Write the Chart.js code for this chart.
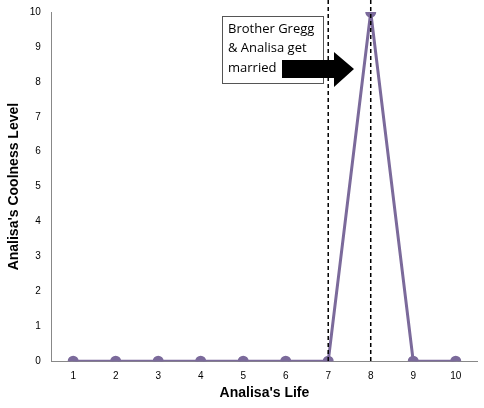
<!DOCTYPE html><html><head><script src="https://cdn.jsdelivr.net/npm/chart.js"></script>
<style>body{margin:0;background:#fff}#w{width:484px;height:408px}</style></head><body><div id="w"><canvas id="c"></canvas></div>
<script>
const categories=['1','2','3','4','5','6','7','8','9','10'];
const coolness=[0,0,0,0,0,0,0,10,0,0];
const markerCats=['7','8'];
const note=['Brother Gregg','& Analisa get','married'];
const ann={id:'ann',afterDatasetsDraw(ch){
 const c=ch.ctx,x=ch.scales.x,y=ch.scales.y;
 c.save();c.strokeStyle='#000';c.lineWidth=1.5;c.setLineDash([4,3]);
 markerCats.forEach(m=>{const px=x.getPixelForValue(categories.indexOf(m));c.beginPath();c.moveTo(px,0);c.lineTo(px,y.bottom);c.stroke();});
 c.setLineDash([]);
 c.fillStyle='#fff';c.strokeStyle='#555';c.lineWidth=1;
 c.fillRect(222,16,101,67);c.strokeRect(222.5,16.5,101,67);
 c.fillStyle='#000';c.font='13px "Open Sans", Arial';c.textBaseline='middle';
 note.forEach((t,i)=>c.fillText(t,228,29+i*19.5));
 c.beginPath();c.moveTo(282,60);c.lineTo(334,60);c.lineTo(334,52);c.lineTo(354,69);c.lineTo(334,87);c.lineTo(334,78);c.lineTo(282,78);c.closePath();c.fill();
 c.restore();}};
new Chart(document.getElementById('c'),{type:'line',data:{labels:categories,datasets:[{data:coolness,borderColor:'#7b6a9b',backgroundColor:'#7b6a9b',borderWidth:3,pointRadius:4,pointBackgroundColor:'#7b6a9b',tension:0}]},
options:{responsive:true,maintainAspectRatio:false,animation:false,layout:{padding:{top:12,right:7,left:2,bottom:6}},
plugins:{legend:{display:false},tooltip:{enabled:false}},
scales:{x:{offset:true,grid:{display:false,drawTicks:true},border:{color:'#888'},ticks:{color:'#000',font:{size:10},padding:1},title:{display:true,text:"Analisa's Life",color:'#000',padding:{top:2,bottom:0},font:{size:14,weight:'bold'}}},
y:{min:0,max:10,ticks:{stepSize:1,color:'#000',font:{size:10}},grid:{display:false},border:{color:'#888'},title:{display:true,text:"Analisa's Coolness Level",color:'#000',font:{size:14,weight:'bold'}}}}},plugins:[ann]});
</script></body></html>
